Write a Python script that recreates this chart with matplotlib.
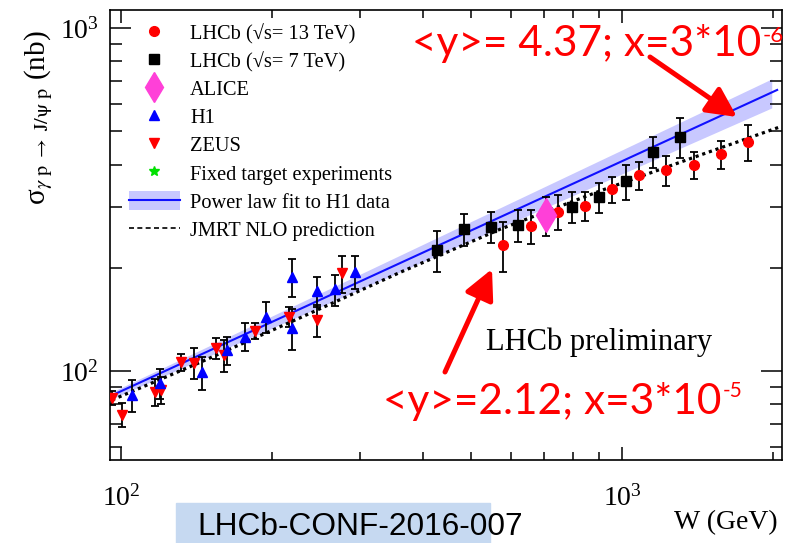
import matplotlib
matplotlib.use("Agg")
import matplotlib.pyplot as plt
from matplotlib.lines import Line2D
from matplotlib.patches import Patch, Rectangle
from matplotlib.ticker import NullFormatter

plt.rcParams["font.family"] = "Liberation Serif"
plt.rcParams["mathtext.fontset"] = "stix"

# H1 (W in GeV, sigma in nb, symmetric error)
h1_w = [105, 119.6, 145, 162.5, 177, 195, 219, 219, 245.7, 267.5, 293]
h1_s = [85, 92, 99, 115, 126, 144, 188, 133.5, 171, 173, 195]
h1_e = [9, 9, 11, 11, 12, 15, 24, 18, 17, 18, 22]

# ZEUS
zeus_w = [96, 100.3, 116.9, 120.2, 132, 140, 154.8, 160.6, 184.9, 216, 245.7, 276]
zeus_s = [83.4, 74.5, 87, 88, 106, 105.5, 116.7, 111, 131, 144, 141, 192.7]
zeus_e = [4, 6, 8, 8, 6, 11, 8, 12, 7, 10, 15, 24]

# LHCb 7 TeV
lhcb7_w = [427, 484, 548, 619, 793, 900, 1018, 1155, 1306]
lhcb7_s = [225, 259, 263.5, 266.6, 301, 321, 358, 436, 482]
lhcb7_e = [31, 28, 28, 29, 31, 33, 42, 46, 65]

# LHCb 13 TeV
lhcb13_w = [580, 657, 746, 845, 957, 1082, 1226, 1392, 1574, 1781]
lhcb13_s = [233, 265, 291, 303, 339, 372, 385.5, 399, 428, 466]
lhcb13_e = [39, 30, 34, 30, 30, 34, 39, 35, 41, 57]

# ALICE
alice_w = [705]
alice_s = [285]
alice_e = [37]

# JMRT NLO prediction
jmrt_w = [96, 144, 228, 361, 571, 904, 1431, 2067]
jmrt_s = [82.3, 106, 143, 194, 259, 335, 426, 515]

# power law fit to H1 and its band
fit_w = [97, 2040]
fit_s = [85.5, 660]
band_w = [97, 1990]
band_lo = [83.5, 585]
band_hi = [87.5, 711]

W, H = 792, 543
fig = plt.figure(figsize=(W / 100, H / 100), dpi=100)
ax = fig.add_axes([110 / W, 83 / H, 672 / W, 450 / H])
ax.set_xscale("log")
ax.set_yscale("log")
ax.set_xlim(95.1, 2086)
ax.set_ylim(55.0, 1129)

ax.fill_between(band_w, band_lo, band_hi, color="#c8c8ff", lw=0, zorder=1)
ax.plot(fit_w, fit_s, color="#1010ff", lw=1.5, zorder=2)
ax.plot(jmrt_w, jmrt_s, color="black", lw=2.3, ls=(0, (1, 1.2)), zorder=2)

eb = dict(ls="none", ecolor="black", elinewidth=1.3, capsize=2.8, capthick=1.3, zorder=3)
ax.errorbar(zeus_w, zeus_s, yerr=zeus_e, fmt="v", color="red", ms=7.5, **eb)
ax.errorbar(h1_w, h1_s, yerr=h1_e, fmt="^", color="blue", ms=7.5, **eb)
ax.errorbar(lhcb7_w, lhcb7_s, yerr=lhcb7_e, fmt="s", color="black", ms=6.5, **eb)
ax.errorbar(lhcb13_w, lhcb13_s, yerr=lhcb13_e, fmt="o", color="red", ms=7, **eb)
ax.errorbar(alice_w, alice_s, yerr=alice_e, fmt="d", color="#ff40d8", ms=17, **eb)

ax.tick_params(which="both", direction="in", top=True, right=True, labelsize=20)
ax.tick_params(axis="y", which="major", length=15, width=1.1, pad=8)
ax.tick_params(axis="y", which="minor", length=8.5, width=1.1)
ax.tick_params(axis="x", which="major", length=9.5, width=1.1, pad=18)
ax.tick_params(axis="x", which="minor", length=6, width=1.1)
ax.xaxis.set_minor_formatter(NullFormatter())
ax.yaxis.set_minor_formatter(NullFormatter())
for s in ax.spines.values():
    s.set_linewidth(1.2)

ax.set_ylabel("σ" + r"$_{\gamma\ \mathrm{p}\ \rightarrow\ \mathrm{J/\psi\ p}}$" + " (nb)", fontsize=21)
ax.yaxis.set_label_coords(-0.082, 0.76)
ax.text(0.994, -0.112, "W (GeV)", transform=ax.transAxes, ha="right", va="top", fontsize=20)

handles = [
    Line2D([], [], ls="none", marker="o", color="red", ms=7),
    Line2D([], [], ls="none", marker="s", color="black", ms=6.5),
    Line2D([], [], ls="none", marker="d", color="#ff40d8", ms=15),
    Line2D([], [], ls="none", marker="^", color="blue", ms=7),
    Line2D([], [], ls="none", marker="v", color="red", ms=7),
    Line2D([], [], ls="none", marker="*", color="#00e000", ms=7),
    (Patch(color="#c8c8ff", lw=0), Line2D([], [], color="#1010ff", lw=1.5)),
    Line2D([], [], color="black", lw=1.2, ls=(0, (3, 2))),
]
labels = [
    "LHCb (√s= 13 TeV)",
    "LHCb (√s= 7 TeV)",
    "ALICE",
    "H1",
    "ZEUS",
    "Fixed target experiments",
    "Power law fit to H1 data",
    "JMRT NLO prediction",
]
ax.legend(handles, labels, loc="upper left", bbox_to_anchor=(0.028, 0.971),
          frameon=False, fontsize=14.7, handlelength=2.5, handleheight=1.0,
          handletextpad=0.5, labelspacing=0.34, borderpad=0, borderaxespad=0)

fig.text(486 / W, (H - 350) / H, "LHCb preliminary", fontsize=22, va="baseline")

# footer tag
fig.patches.append(Rectangle((176 / W, 0), (490 - 176) / W, (H - 503) / H,
                             transform=fig.transFigure, color="#c6d9f1", zorder=0))
fig.text(197 / W, (H - 535) / H, "LHCb-CONF-2016-007", family="Liberation Sans",
         fontsize=22.8, va="baseline")

# red kinematic notes with superscripts
renderer = fig.canvas.get_renderer()


def red_note(x, y, main, sup, size, sup_size, rise):
    t = fig.text(x / W, (H - y) / H, main, color="red", family="Lato",
                 fontsize=size, va="baseline")
    bb = t.get_window_extent(renderer)
    fig.text((bb.x1 + 1) / W, (H - y + rise) / H, sup, color="red", family="Lato",
             fontsize=sup_size, va="baseline")


red_note(412, 56, "<y>= 4.37; x=3*10", "-6", 30.5, 16, 14)
red_note(383, 414, "<y>=2.12; x=3*10", "-5", 30.5, 15, 17)

arrow = dict(arrowstyle="-|>,head_length=0.9,head_width=0.45", color="red",
             lw=3.6, mutation_scale=20, shrinkA=0, shrinkB=0)
ax.annotate("", xy=(737, H - 117), xycoords="figure pixels",
            xytext=(650, H - 57), textcoords="figure pixels", arrowprops=arrow)
ax.annotate("", xy=(492, H - 269), xycoords="figure pixels",
            xytext=(445, H - 372), textcoords="figure pixels", arrowprops=arrow)

fig.savefig("out.png", dpi=100)
